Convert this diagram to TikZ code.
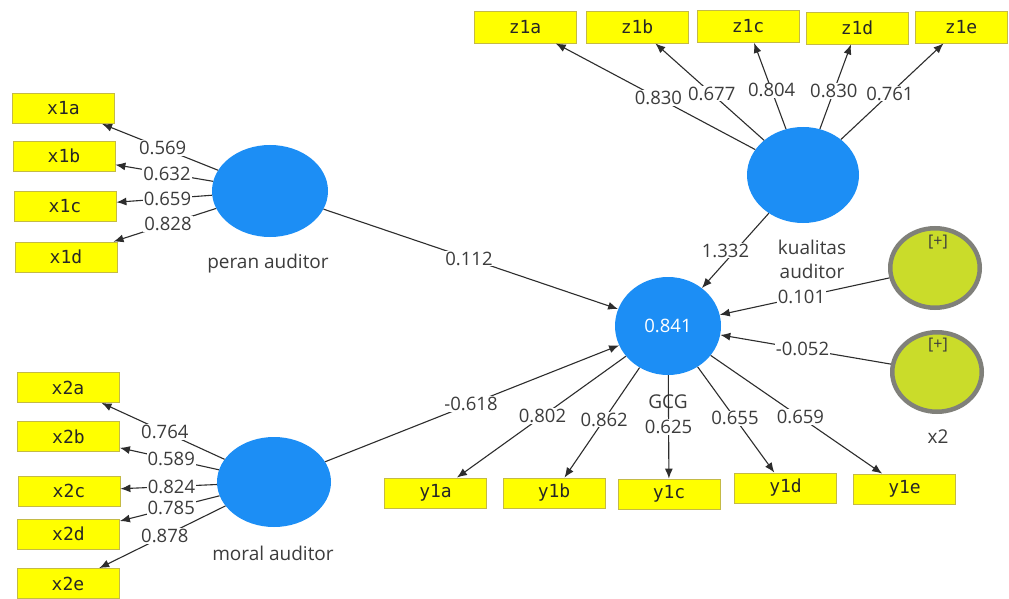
\documentclass[tikz,border=0pt]{standalone}
\usepackage{fontspec}
\setmainfont{Open Sans}
\newfontfamily\boxfont{DejaVu Sans Mono}
\usetikzlibrary{shapes.geometric,arrows.meta}
\definecolor{latblue}{RGB}{28,142,245}
\definecolor{indyel}{RGB}{255,255,0}
\definecolor{indbord}{RGB}{196,186,70}
\definecolor{modgreen}{RGB}{202,220,42}
\definecolor{modgray}{RGB}{128,128,122}
\definecolor{txtgray}{RGB}{60,60,60}
\definecolor{lincol}{RGB}{45,45,45}
\begin{document}
\begin{tikzpicture}[x=1pt,y=-1pt,
  ind/.style={draw=indbord,fill=indyel,line width=0.8pt,minimum width=102pt,minimum height=30pt,inner sep=0pt,font=\boxfont\fontsize{18}{20}\selectfont,text=black!85},
  lat/.style={ellipse,fill=latblue,inner sep=0pt},
  modc/.style={ellipse,fill=modgreen,draw=modgray,line width=4.5pt,minimum width=89.5pt,minimum height=79.5pt,inner sep=0pt},
  lbl/.style={fill=white,inner sep=1pt,text=txtgray,font=\fontsize{18.5}{20}\selectfont},
  captxt/.style={text=txtgray,font=\fontsize{19}{22}\selectfont,align=center},
  conn/.style={draw=lincol,line width=1.1pt,-{Latex[length=10pt,width=8pt]}}]
\useasboundingbox[fill=white] (0,0) rectangle (1009,599);
% latent variables
\node[lat,minimum width=116pt,minimum height=92pt] (pa) at (270,191) {};
\node[lat,minimum width=114pt,minimum height=90pt] (ma) at (274,482) {};
\node[lat,minimum width=112pt,minimum height=96pt] (kq) at (803,175) {};
\node[lat,minimum width=106pt,minimum height=98pt,text=white,font=\fontsize{18.5}{20}\selectfont] (gcg) at (668,326) {0.841};
\node[modc] (m1) at (935,268) {};
\node[modc] (m2) at (937,372) {};
% captions
\node[captxt] (cpa) at (268,264) {peran auditor};
\node[captxt] (cma) at (273,553) {moral auditor};
\node[captxt,font=\fontsize{19}{24}\selectfont] (ckq) at (812,259) {kualitas\\auditor};
\node[captxt] (cgcg) at (668,402) {GCG};
\node[captxt] (cx2) at (938,437) {x2};
\node[captxt,font=\fontsize{16}{18}\selectfont] (p1) at (938,242) {[+]};
\node[captxt,font=\fontsize{16}{18}\selectfont] (p2) at (938,345) {[+]};
% indicators
\node[ind] (x1a) at (63.5,108.5) {x1a};
\node[ind] (x1b) at (64,156) {x1b};
\node[ind] (x1c) at (65,206) {x1c};
\node[ind] (x1d) at (66,257) {x1d};
\node[ind] (x2a) at (68,387.5) {x2a};
\node[ind] (x2b) at (68.5,436.5) {x2b};
\node[ind] (x2c) at (69,491) {x2c};
\node[ind] (x2d) at (68.5,534) {x2d};
\node[ind] (x2e) at (68,583.5) {x2e};
\node[ind,minimum height=32pt] (z1a) at (525,27) {z1a};
\node[ind,minimum height=32pt] (z1b) at (637,27) {z1b};
\node[ind,minimum height=32pt] (z1c) at (748,26.5) {z1c};
\node[ind,minimum height=32pt] (z1d) at (857,28) {z1d};
\node[ind,minimum height=32pt,minimum width=92pt] (z1e) at (961,27) {z1e};
\node[ind] (y1a) at (435.5,493) {y1a};
\node[ind] (y1b) at (554,493) {y1b};
\node[ind] (y1c) at (669,494) {y1c};
\node[ind] (y1d) at (785.5,488) {y1d};
\node[ind] (y1e) at (904.5,489) {y1e};
% outer model connectors
\foreach \a/\b/\v/\p in {pa/x1a/0.569/0.52, pa/x1b/0.632/0.5, pa/x1c/0.659/0.5, pa/x1d/0.828/0.5,
  ma/x2a/0.764/0.53, ma/x2b/0.589/0.5, ma/x2c/0.824/0.5, ma/x2d/0.785/0.5, ma/x2e/0.878/0.53,
  kq/z1a/0.830/0.52, kq/z1b/0.677/0.55, kq/z1c/0.804/0.57, kq/z1d/0.830/0.57, kq/z1e/0.761/0.55,
  gcg/y1a/0.802/0.54, gcg/y1b/0.862/0.56, gcg/y1c/0.625/0.6, gcg/y1d/0.655/0.57, gcg/y1e/0.659/0.56}
{
  \draw[conn] (\a) -- (\b);
  \path (\a.center) -- node[lbl,pos=\p] {\v} (\b.center);
}
% inner model connectors
\foreach \a/\v/\p/\dx in {pa/0.112/0.5/0, ma/-0.618/0.5/0, kq/1.332/0.5/-10, m1/0.101/0.5/0, m2/-0.052/0.5/0}
{
  \draw[conn] (\a) -- (gcg);
  \path (\a.center) -- node[lbl,pos=\p,xshift=\dx pt] {\v} (gcg.center);
}
\end{tikzpicture}
\end{document}
